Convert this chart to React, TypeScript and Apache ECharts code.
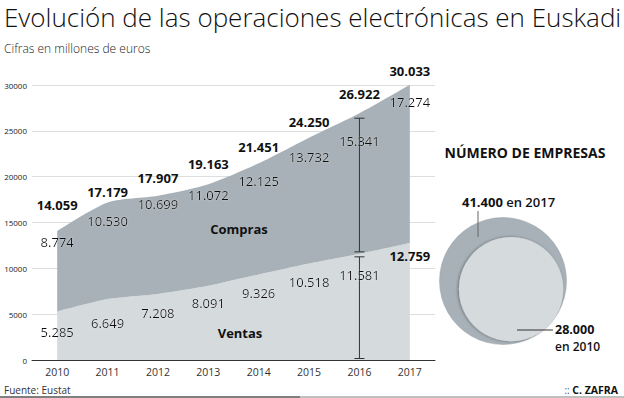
import React, { useEffect, useRef } from 'react';
import * as echarts from 'echarts';

const years = ['2010', '2011', '2012', '2013', '2014', '2015', '2016', '2017'];
const ventas = [5285, 6649, 7208, 8091, 9326, 10518, 11581, 12759];
const compras = [8774, 10530, 10699, 11072, 12125, 13732, 15341, 17274];
const totales = [14059, 17179, 17907, 19163, 21451, 24250, 26922, 30033];
const yMin = 0;
const yMax = 30000;
const yInterval = 5000;
const bracketYear = '2016';
const empresasYears = ['2017', '2010'];
const empresasValues = [41400, 28000];

const FONT = '"Open Sans", "Noto Sans", sans-serif';
const DARK = '#a7b1b7';
const LIGHT = '#d5dadd';

const fmt = (v: number) => String(v).replace(/\B(?=(\d{3})+(?!\d))/g, '.');

export default function App() {
  const ref = useRef<HTMLDivElement>(null);

  useEffect(() => {
    if (!ref.current) return;
    const chart = echarts.init(ref.current, null, { renderer: 'svg' });

    const bIdx = years.indexOf(bracketYear);
    const halo = { textShadowColor: 'rgba(255,255,255,0.45)', textShadowBlur: 2 };

    // small per-label vertical nudges (layout only)
    const comprasNudge = [-7, 1, -9, -7, 0, 2, 10, 0];
    const totalNudge = [-9, 7, 0, -3, 1, 2, -2, 4];
    const ventasNudge = [1, 4, 0, -2, -1, -1, 2, 0];

    const labelLine = (name: string, data: any[], stack: string | undefined, position: string, distance: number, bold: boolean) => ({
      type: 'line',
      name,
      data,
      stack,
      z: 6,
      clip: false,
      silent: true,
      symbol: 'circle',
      symbolSize: 0,
      showSymbol: true,
      lineStyle: { opacity: 0, width: 0 },
      itemStyle: { color: 'transparent' },
      label: {
        show: true,
        position,
        distance,
        fontFamily: FONT,
        fontSize: 13,
        fontWeight: bold ? 'bold' : 'normal',
        color: '#111',
        formatter: (p: any) => fmt(p.value),
        ...(bold ? {} : halo),
      },
    });

    const withNudge = (vals: number[], nudge: number[], extra?: (i: number) => any) =>
      vals.map((v, i) => ({ value: v, label: { offset: [0, nudge[i]], ...(extra ? extra(i) : {}) } }));

    const R = 63.5;
    const rBig = R;
    const rSmall = R * Math.sqrt(empresasValues[1] / empresasValues[0]);
    const cx = 503;
    const cy = 281;
    const d = (rBig - rSmall) * 0.72;

    const option: any = {
      animation: false,
      grid: { left: 32, right: 189, top: 85, bottom: 38 },
      xAxis: {
        type: 'category',
        data: years,
        boundaryGap: true,
        axisLine: { lineStyle: { color: '#333', width: 1 } },
        axisTick: { show: false },
        axisLabel: { fontFamily: FONT, fontSize: 10.5, color: '#333', margin: 6 },
      },
      yAxis: {
        type: 'value',
        min: yMin,
        max: yMax,
        interval: yInterval,
        axisLine: { show: false },
        axisTick: { show: false },
        axisLabel: { fontFamily: FONT, fontSize: 8, color: '#222', margin: 5, formatter: (v: number) => String(v) },
        splitLine: { lineStyle: { color: '#dedede', width: 1 } },
      },
      series: [
        {
          type: 'line',
          name: 'Ventas',
          data: ventas,
          stack: 'area',
          smooth: 0.25,
          clip: false,
          symbol: 'none',
          lineStyle: { width: 0 },
          areaStyle: { color: LIGHT, opacity: 1 },
          z: 1,
        },
        {
          type: 'line',
          name: 'Compras',
          data: compras,
          stack: 'area',
          smooth: 0.25,
          clip: false,
          symbol: 'none',
          lineStyle: { width: 0 },
          areaStyle: { color: DARK, opacity: 1 },
          z: 1,
        },
        {
          type: 'custom',
          name: 'bracket',
          z: 3,
          silent: true,
          data: [[bIdx, ventas[bIdx], totales[bIdx]]],
          encode: { x: 0, y: 1 },
          renderItem: (_p: any, api: any) => {
            const ix = api.value(0);
            const [x, y0] = api.coord([ix, 0]);
            const y1 = api.coord([ix, api.value(1)])[1];
            const y2 = api.coord([ix, api.value(2)])[1];
            const w = 5;
            const st = { stroke: '#333', lineWidth: 1 };
            const cap = (y: number) => ({ type: 'line', shape: { x1: x - w, y1: y, x2: x + w, y2: y }, style: st });
            const a = y0 - 1.5;
            const b = y1 + 3;
            const c = y1 - 2;
            const e = y2 + 5;
            return {
              type: 'group',
              children: [
                { type: 'line', shape: { x1: x, y1: a, x2: x, y2: b }, style: st },
                cap(a),
                cap(b),
                { type: 'line', shape: { x1: x, y1: c, x2: x, y2: e }, style: st },
                cap(c),
                cap(e),
              ],
            };
          },
        },
        labelLine(
          'VentasLbl',
          withNudge(ventas, ventasNudge, (i) =>
            i === ventas.length - 1 ? { fontWeight: 'bold', distance: 6, textShadowBlur: 0 } : {}
          ),
          'lbl',
          'bottom',
          13,
          false
        ),
        labelLine('ComprasLbl', withNudge(compras, comprasNudge), 'lbl', 'bottom', 11, false),
        labelLine('TotalLbl', withNudge(totales, totalNudge), undefined, 'top', 11, true),
      ],
      graphic: [
        {
          type: 'text',
          x: 4,
          y: 4,
          style: {
            text: 'Evolución de las operaciones electrónicas en Euskadi',
            fontFamily: FONT,
            fontWeight: 300,
            fontSize: 26,
            fill: '#111',
          },
        },
        {
          type: 'text',
          left: 4,
          top: 42,
          style: { text: 'Cifras en millones de euros', fontFamily: FONT, fontWeight: 300, fontSize: 12, fill: '#222' },
        },
        {
          type: 'text',
          x: 239,
          y: 229,
          style: { text: 'Compras', fontFamily: FONT, fontWeight: 'bold', fontSize: 13, fill: '#111', align: 'center', verticalAlign: 'middle' },
          z: 10,
        },
        {
          type: 'text',
          x: 240,
          y: 333,
          style: { text: 'Ventas', fontFamily: FONT, fontWeight: 'bold', fontSize: 13, fill: '#111', align: 'center', verticalAlign: 'middle' },
          z: 10,
        },
        {
          type: 'text',
          x: 525,
          y: 152,
          style: { text: 'NÚMERO DE EMPRESAS', fontFamily: FONT, fontWeight: 'bold', fontSize: 14, fill: '#111', align: 'center', verticalAlign: 'middle' },
        },
        {
          type: 'circle',
          shape: { cx, cy, r: rBig },
          style: { fill: DARK, stroke: '#98a2a8', lineWidth: 0.5 },
          z: 1,
        },
        {
          type: 'circle',
          shape: { cx: cx + d, cy: cy + d, r: rSmall },
          style: { fill: LIGHT, shadowColor: 'rgba(0,0,0,0.35)', shadowBlur: 3, shadowOffsetX: -1 },
          z: 2,
        },
        {
          type: 'line',
          shape: { x1: 478, y1: 211, x2: 478, y2: 237 },
          style: { stroke: '#666', lineWidth: 1 },
          z: 3,
        },
        {
          type: 'text',
          x: 462,
          y: 202,
          style: {
            text: '{b|' + fmt(empresasValues[0]) + '} {n|en ' + empresasYears[0] + '}',
            verticalAlign: 'middle',
            rich: {
              b: { fontFamily: FONT, fontWeight: 'bold', fontSize: 13, fill: '#111' },
              n: { fontFamily: FONT, fontWeight: 600, fontSize: 13, fill: '#111' },
            },
          },
          z: 3,
        },
        {
          type: 'line',
          shape: { x1: 517, y1: 330, x2: 553, y2: 330 },
          style: { stroke: '#333', lineWidth: 1 },
          z: 3,
        },
        {
          type: 'text',
          x: 555,
          y: 329,
          style: { text: fmt(empresasValues[1]), fontFamily: FONT, fontWeight: 'bold', fontSize: 12.5, fill: '#111', verticalAlign: 'middle' },
          z: 3,
        },
        {
          type: 'text',
          x: 555,
          y: 346,
          style: { text: 'en ' + empresasYears[1], fontFamily: FONT, fontWeight: 600, fontSize: 12, fill: '#111', verticalAlign: 'middle' },
          z: 3,
        },
        {
          type: 'text',
          x: 4,
          y: 390,
          style: { text: 'Fuente: Eustat', fontFamily: FONT, fontSize: 10, fill: '#333', verticalAlign: 'middle' },
        },
        {
          type: 'text',
          x: 618,
          y: 390,
          style: {
            text: '{l|:: }{b|C. ZAFRA}',
            align: 'right',
            verticalAlign: 'middle',
            rich: {
              l: { fontFamily: FONT, fontSize: 10, fill: '#555' },
              b: { fontFamily: FONT, fontWeight: 'bold', fontSize: 10.5, fill: '#111' },
            },
          },
        },
        {
          type: 'line',
          shape: { x1: 0, y1: 397, x2: 300, y2: 397 },
          style: { stroke: '#555', lineWidth: 1.5 },
        },
        {
          type: 'line',
          shape: { x1: 300, y1: 397, x2: 624, y2: 397 },
          style: { stroke: '#aaa', lineWidth: 1.5 },
        },
      ],
    };

    chart.setOption(option);
    return () => chart.dispose();
  }, []);

  return <div ref={ref} style={{ width: 624, height: 398, position: 'absolute', left: 0, top: 0 }} />;
}
